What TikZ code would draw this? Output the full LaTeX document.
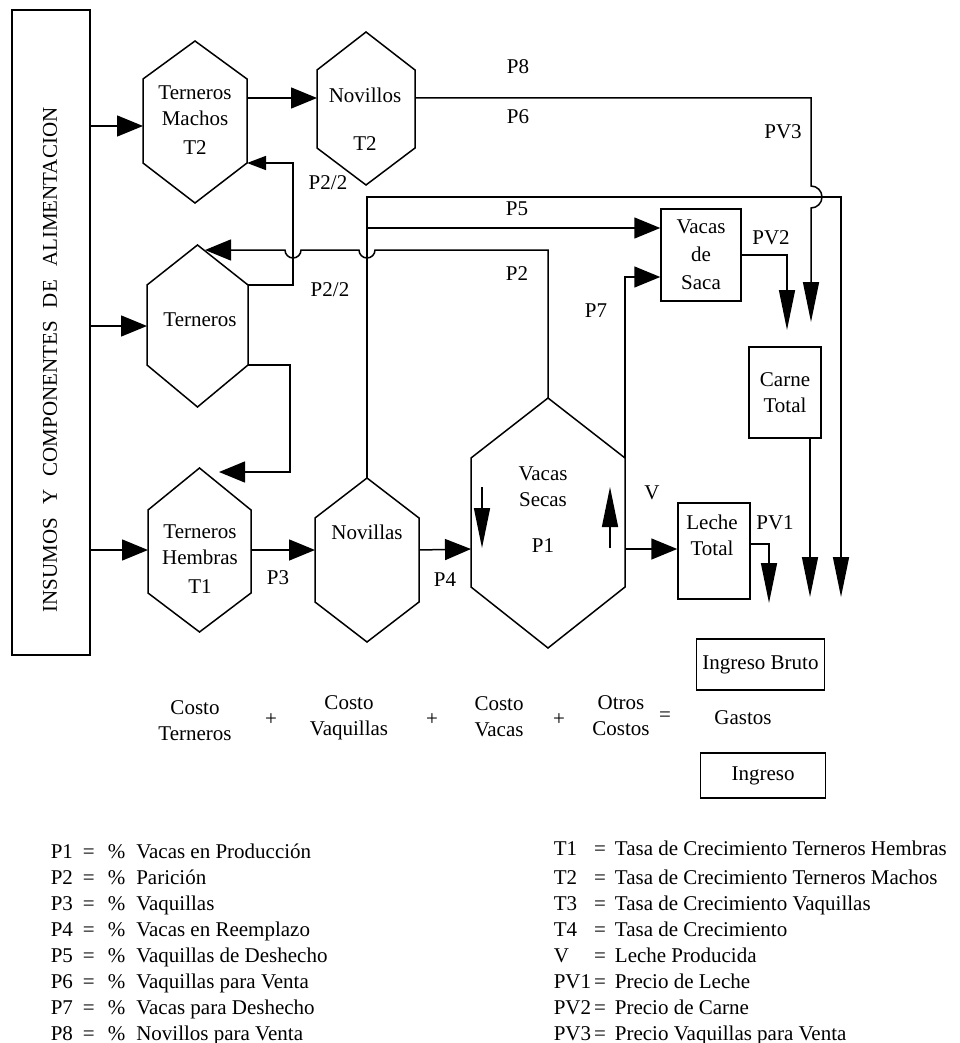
\documentclass[tikz,border=0pt]{standalone}
\usepackage{fontspec}
\setmainfont{Liberation Serif}
\usepackage{tikz}
\usetikzlibrary{arrows.meta, positioning, calc}

\newcommand\fs{\fontsize{21}{26}\selectfont}
% hexagono: nombre, cx, semiancho, ytop, ysup, yinf, ybot, yflecha
\newcommand\hexagono[8]{%
  \coordinate (#1t)  at (#2,#4);
  \coordinate (#1ul) at (#2-#3,#5);
  \coordinate (#1ur) at (#2+#3,#5);
  \coordinate (#1ll) at (#2-#3,#6);
  \coordinate (#1lr) at (#2+#3,#6);
  \coordinate (#1b)  at (#2,#7);
  \coordinate (#1w)  at (#2-#3,#8);
  \coordinate (#1e)  at (#2+#3,#8);
  \draw (#1t) -- (#1ur) -- (#1lr) -- (#1b) -- (#1ll) -- (#1ul) -- cycle;}

\tikzset{
  flecha/.style={-{Triangle[length=26pt, width=21pt]}},
  flechita/.style={-{Triangle[length=19pt, width=14pt]}},
  flechav/.style={-{Triangle[length=40pt, width=16pt]}},
  caja/.style={draw, rectangle, inner sep=0pt, align=center},
  texto/.style={align=center, inner sep=0pt},
}

\begin{document}
\begin{tikzpicture}[x=1pt, y=-1pt, font=\fs, line width=1.5pt]
  \useasboundingbox (0,0) rectangle (959,1043);

  % bloque de insumos
  \node[caja, minimum width=78pt, minimum height=645pt] (insumos) at (51,332.5) {};
  \node[rotate=90, inner sep=0pt] (insumosTxt) at (50,360)
    {\makebox[505pt][s]{INSUMOS Y COMPONENTES DE ALIMENTACION}};

  % hexagonos
  \hexagono{tm}{195}{52}{41}{79}{163}{203}{126}
  \hexagono{nv}{366}{49}{32}{70}{148}{185}{98}
  \hexagono{tr}{197.5}{50.5}{245}{285}{365}{407}{326}
  \hexagono{th}{199.5}{51.5}{468}{510}{593}{632}{550}
  \hexagono{na}{367}{52}{478}{518}{602}{642}{550}
  \hexagono{vs}{548}{77}{398}{458}{587}{648}{549}

  \node[texto] (tmTxt) at (195,120.5) {Terneros\\Machos\\[3pt]T2};
  \node[texto] (nvTxt) at (365,119) {Novillos\\[22pt]T2};
  \node[texto] (trTxt) at (200,320) {Terneros};
  \node[texto] (thTxt) at (200,559.5) {Terneros\\Hembras\\[3pt]T1};
  \node[texto] (naTxt) at (367,532) {Novillas};
  \node[texto] (vsTxt) at (543,510) {Vacas\\Secas\\[20pt]P1};

  % cajas
  \node[caja, minimum width=80pt, minimum height=92pt] (vds) at (701,255) {Vacas\\[2pt]de\\[2pt]Saca};
  \node[caja, minimum width=72pt, minimum height=91pt] (carne) at (785,392.5) {Carne\\Total};
  \node[caja, minimum width=72pt, minimum height=96pt] (leche) at (714,551) {};
  \node[texto] (lecheTxt) at (712,535) {Leche\\Total};
  \node[caja, minimum width=128pt, minimum height=51pt] (bruto) at (760.5,664.5) {Ingreso Bruto};
  \node[caja, minimum width=125pt, minimum height=45pt] (ingreso) at (763,775.5) {Ingreso};

  % entradas desde insumos
  \draw[flecha] (insumos.east |- tmw) -- (tmw);
  \draw[flecha] (insumos.east |- trw) -- (trw);
  \draw[flecha] (insumos.east |- thw) -- (thw);

  % machos -> novillos -> venta
  \draw[flecha] (tmur |- nvw) -- (nvw);
  \coordinate (pv3) at (811,322);
  \draw[flechav] (nve) -| (811,186) arc (-90:90:11) -- (pv3);

  % novillas hacia arriba
  \coordinate (cruce) at (367,197);
  \coordinate (p5) at (367,228);
  \coordinate (finDer) at (841,597);
  \draw[flechav] (nat) -- (cruce) -| (finDer);
  \draw[flecha] (p5) -- (p5 -| vds.west);

  % paricion
  \coordinate (trIn) at (205,250);
  \draw[flecha] (vst) |- (375,250) arc (0:180:8) -- (301,250) arc (0:180:8) -- (trIn);
  \draw[flechita] (trur) -- (293,285) |- (tmlr);
  \coordinate (thIn) at (219,472);
  \draw[flecha] (trlr) -- (290,365) |- (thIn);

  % cadena principal
  \draw[flecha] (the) -- (naw);
  \draw[flecha] (nae) -- (vsw);
  \draw[flecha] (vse) -- (vse -| leche.west);
  \draw[flecha] (vsur) |- ($(vds.west)+(0,22)$);

  % flechas internas
  \coordinate (vsA1) at (482,487); \coordinate (vsA2) at (482,548);
  \coordinate (vsB1) at (610,548); \coordinate (vsB2) at (610,487);
  \draw[flechav] (vsA1) -- (vsA2);
  \draw[flechav] (vsB1) -- (vsB2);

  % precios
  \coordinate (pv2) at (787,330);
  \draw[flechav] (vds.east) -| (pv2);
  \coordinate (pv1) at (769,603);
  \draw[flechav] ($(leche.east)+(0,-7)$) -| (pv1);
  \coordinate (carneFin) at (810,597);
  \draw[flechav] (carneFin |- carne.south) -- (carneFin);

  % etiquetas
  \node (lP8) at (518,67) {P8};
  \node (lP6) at (518,117) {P6};
  \node (lPV3) at (783,132) {PV3};
  \node (lP22a) at (328,183) {P2/2};
  \node (lP22b) at (330,290) {P2/2};
  \node (lP5) at (517,209) {P5};
  \node (lP2) at (517,274) {P2};
  \node (lP7) at (596,311) {P7};
  \node (lPV2) at (771,238) {PV2};
  \node (lV) at (652,493) {V};
  \node (lPV1) at (775,523) {PV1};
  \node (lP3) at (278,578) {P3};
  \node (lP4) at (445,580) {P4};

  % gastos
  \node[texto] (cTer) at (195,721) {Costo\\Terneros};
  \node (mas1) at (271,720) {+};
  \node[texto] (cVaq) at (349,718) {Costo\\Vaquillas};
  \node (mas2) at (432,720) {+};
  \node[texto] (cVac) at (499,717) {Costo\\Vacas};
  \node (mas3) at (559,720) {+};
  \node[texto] (cOtr) at (621,716) {Otros\\Costos};
  \node (igual) at (665,717) {=};
  \node (gastos) at (743,718) {Gastos};

  % leyenda
  \node[anchor=base west, inner sep=0pt] (leyP) at (50,858) {%
    \begin{tabular}[t]{@{}l@{\hspace{10pt}}c@{\hspace{13pt}}l@{\hspace{11pt}}l@{}}
      P1 & = & \% & Vacas en Producción\\
      P2 & = & \% & Parición\\
      P3 & = & \% & Vaquillas\\
      P4 & = & \% & Vacas en Reemplazo\\
      P5 & = & \% & Vaquillas de Deshecho\\
      P6 & = & \% & Vaquillas para Venta\\
      P7 & = & \% & Vacas para Deshecho\\
      P8 & = & \% & Novillos para Venta
    \end{tabular}};
  \node[anchor=base west, inner sep=0pt] (leyT) at (553,855) {%
    \begin{tabular}[t]{@{}l@{\hspace{3pt}}c@{\hspace{9pt}}l@{}}
      T1 & = & Tasa de Crecimiento Terneros Hembras\\[3pt]
      T2 & = & Tasa de Crecimiento Terneros Machos\\
      T3 & = & Tasa de Crecimiento Vaquillas\\
      T4 & = & Tasa de Crecimiento\\
      V & = & Leche Producida\\
      PV1 & = & Precio de Leche\\
      PV2 & = & Precio de Carne\\
      PV3 & = & Precio Vaquillas para Venta
    \end{tabular}};
\end{tikzpicture}
\end{document}
